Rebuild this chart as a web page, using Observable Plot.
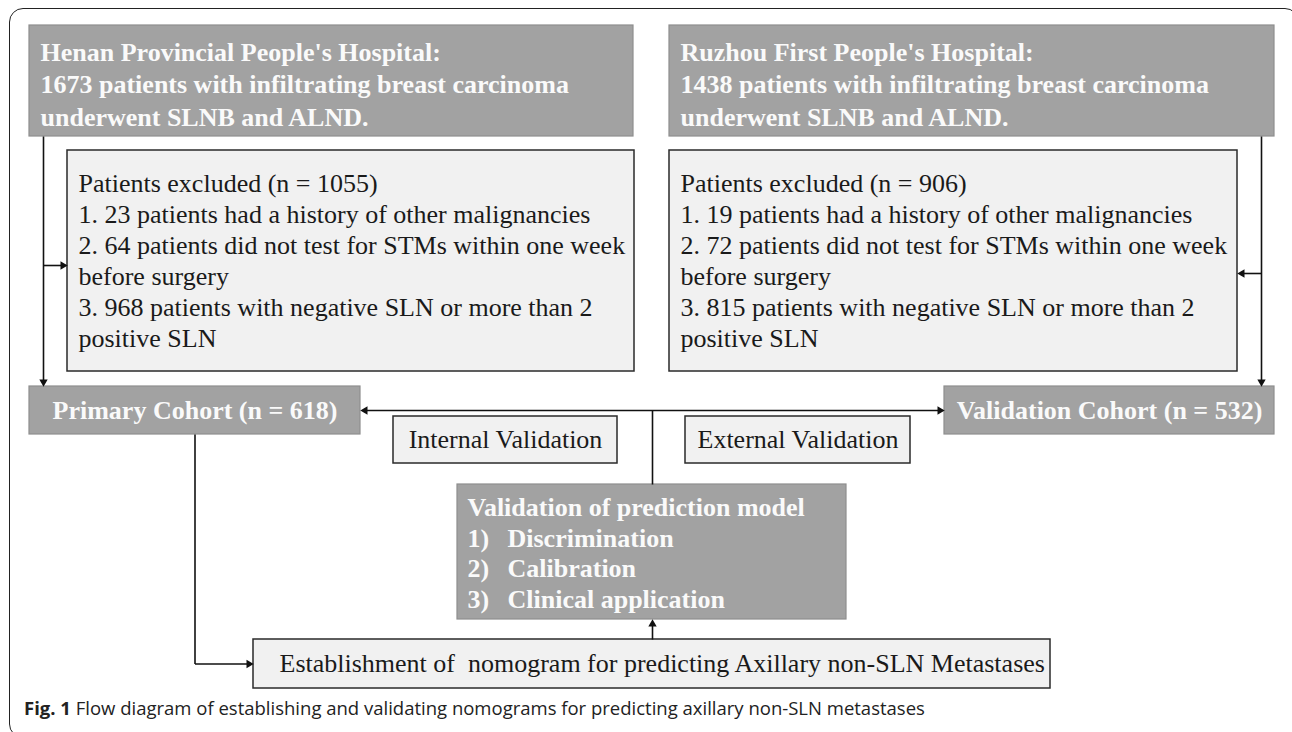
<!DOCTYPE html>
<html>
<head>
<meta charset="utf-8">
<script src="https://cdn.jsdelivr.net/npm/d3@7"></script>
<script src="https://cdn.jsdelivr.net/npm/@observablehq/plot@0.6"></script>
<style>
html, body { margin: 0; padding: 0; background: #fff; overflow: hidden; }
#fig { position: relative; width: 1292px; height: 732px; overflow: hidden; }
#chart { position: absolute; left: 0; top: 0; }
#frame { position: absolute; left: 9px; top: 8px; width: 1290px; height: 730px; border: 1.5px solid #222; border-radius: 14px; box-sizing: border-box; pointer-events: none; }
#caption { position: absolute; left: 24px; top: 695px; font-family: "Open Sans", sans-serif; font-size: 18.5px; line-height: 26px; color: #222; white-space: nowrap; }
#caption b { font-weight: 700; }
svg text { white-space: pre; }
</style>
</head>
<body>
<div id="fig">
  <div id="chart"></div>
  <div id="caption"></div>
  <div id="frame"></div>
</div>
<script>
// ---- chart content ----
const leftHospital = ["Henan Provincial People's Hospital:", "1673 patients with infiltrating breast carcinoma", "underwent SLNB and ALND."];
const rightHospital = ["Ruzhou First People's Hospital:", "1438 patients with infiltrating breast carcinoma", "underwent SLNB and ALND."];
const leftExcluded = ["Patients excluded (n = 1055)", "1. 23 patients had a history of other malignancies", "2. 64 patients did not test for STMs within one week", "before surgery", "3. 968 patients with negative SLN or more than 2", "positive SLN"];
const rightExcluded = ["Patients excluded (n = 906)", "1. 19 patients had a history of other malignancies", "2. 72 patients did not test for STMs within one week", "before surgery", "3. 815 patients with negative SLN or more than 2", "positive SLN"];
const cohortLabels = ["Primary Cohort (n = 618)", "Validation Cohort (n = 532)"];
const validationTypes = ["Internal Validation", "External Validation"];
const modelTitle = "Validation of prediction model";
const modelStepNumbers = ["1)", "2)", "3)"];
const modelStepLabels = ["Discrimination", "Calibration", "Clinical application"];
const establishmentLabel = "Establishment of  nomogram for predicting Axillary non-SLN Metastases";
const captionLabel = "Fig. 1";
const captionText = "Flow diagram of establishing and validating nomograms for predicting axillary non-SLN metastases";

// ---- layout (diagram coordinates) ----
const W = 1292, H = 696;
const boxes = [
  {id: "hL", x1: 29, x2: 633, y1: 25, y2: 136, kind: "dark"},
  {id: "hR", x1: 669, x2: 1274, y1: 25, y2: 136, kind: "dark"},
  {id: "eL", x1: 67, x2: 634, y1: 150, y2: 371, kind: "light"},
  {id: "eR", x1: 669, x2: 1237, y1: 150, y2: 371, kind: "light"},
  {id: "pc", x1: 29, x2: 360, y1: 386, y2: 434, kind: "dark"},
  {id: "vc", x1: 944, x2: 1274, y1: 386, y2: 434, kind: "dark"},
  {id: "iv", x1: 393, x2: 617, y1: 416, y2: 463, kind: "light"},
  {id: "ev", x1: 685, x2: 910, y1: 416, y2: 463, kind: "light"},
  {id: "vm", x1: 457, x2: 846, y1: 484, y2: 619, kind: "dark"},
  {id: "es", x1: 253, x2: 1050, y1: 639, y2: 688, kind: "light"}
];
const B = Object.fromEntries(boxes.map(b => [b.id, b]));
const cx = b => (b.x1 + b.x2) / 2, cy = b => (b.y1 + b.y2) / 2;

// texts
const texts = [];
const lineStep = 32.5, exStep = 31;
leftHospital.forEach((t, i) => texts.push({x: 40, y: 52 + i * lineStep, text: t, anchor: "start", dark: true}));
rightHospital.forEach((t, i) => texts.push({x: 680, y: 52 + i * lineStep, text: t, anchor: "start", dark: true}));
leftExcluded.forEach((t, i) => texts.push({x: 78, y: 183 + i * exStep, text: t, anchor: "start", dark: false}));
rightExcluded.forEach((t, i) => texts.push({x: 680, y: 183 + i * exStep, text: t, anchor: "start", dark: false}));
texts.push({x: cx(B.pc), y: cy(B.pc), text: cohortLabels[0], anchor: "middle", dark: true});
texts.push({x: cx(B.vc), y: cy(B.vc), text: cohortLabels[1], anchor: "middle", dark: true});
texts.push({x: cx(B.iv), y: cy(B.iv), text: validationTypes[0], anchor: "middle", dark: false});
texts.push({x: cx(B.ev), y: cy(B.ev), text: validationTypes[1], anchor: "middle", dark: false});
texts.push({x: 467, y: 507, text: modelTitle, anchor: "start", dark: true});
modelStepNumbers.forEach((t, i) => texts.push({x: 467, y: 538 + i * 30.5, text: t, anchor: "start", dark: true}));
modelStepLabels.forEach((t, i) => texts.push({x: 507, y: 538 + i * 30.5, text: t, anchor: "start", dark: true}));
texts.push({x: 279, y: cy(B.es), text: establishmentLabel, anchor: "start", dark: false});

// connectors
const xL = 43, xR = 1261, xJ = 652, yH = 410;
const segments = [
  {x1: xL, y1: B.hL.y2, x2: xL, y2: B.pc.y1 - 4},
  {x1: xL, y1: 265, x2: B.eL.x1 - 4, y2: 265},
  {x1: xR, y1: B.hR.y2, x2: xR, y2: B.vc.y1 - 4},
  {x1: xR, y1: 273, x2: B.eR.x2 + 4, y2: 273},
  {x1: B.pc.x2 + 4, y1: yH, x2: B.vc.x1 - 4, y2: yH},
  {x1: xJ, y1: yH, x2: xJ, y2: B.vm.y1},
  {x1: cx(B.pc), y1: B.pc.y2, x2: cx(B.pc), y2: cy(B.es)},
  {x1: cx(B.pc), y1: cy(B.es), x2: B.es.x1 - 4, y2: cy(B.es)},
  {x1: xJ, y1: B.es.y1, x2: xJ, y2: B.vm.y2 + 4}
];
const tip = 4.6;
const heads = [
  {x: xL, y: B.pc.y1 - tip, a: 180},
  {x: B.eL.x1 - tip, y: 265, a: 90},
  {x: xR, y: B.vc.y1 - tip, a: 180},
  {x: B.eR.x2 + tip, y: 273, a: 270},
  {x: B.pc.x2 + tip, y: yH, a: 270},
  {x: B.vc.x1 - tip, y: yH, a: 90},
  {x: B.es.x1 - tip, y: cy(B.es), a: 90},
  {x: xJ, y: B.vm.y2 + tip, a: 0}
];

const serif = "Liberation Serif, Times New Roman, Times, serif";
const textMark = (dark, anchor) => Plot.text(texts.filter(d => d.dark === dark && d.anchor === anchor), {
  x: "x", y: "y", text: "text", textAnchor: anchor,
  fontFamily: serif, fontSize: 26,
  fontWeight: dark ? "bold" : "normal",
  fill: dark ? "#fafafa" : "#1a1a1a"
});

const chart = Plot.plot({
  width: W, height: H, margin: 0,
  x: {domain: [0, W], range: [0, W], axis: null},
  y: {domain: [0, H], range: [0, H], axis: null},
  style: {background: "transparent", overflow: "visible"},
  marks: [
    Plot.rect(boxes, {
      x1: "x1", x2: "x2", y1: "y1", y2: "y2",
      fill: d => d.kind === "dark" ? "#a2a2a2" : "#f1f1f1",
      stroke: d => d.kind === "dark" ? "#8e8e8e" : "#2a2a2a",
      strokeWidth: d => d.kind === "dark" ? 1.2 : 1.5
    }),
    Plot.link(segments, {x1: "x1", y1: "y1", x2: "x2", y2: "y2", stroke: "#111", strokeWidth: 1.6}),
    Plot.dot(heads, {x: "x", y: "y", symbol: "triangle", r: 3.1, rotate: "a", fill: "#111", stroke: "none"}),
    textMark(true, "start"),
    textMark(true, "middle"),
    textMark(false, "start"),
    textMark(false, "middle")
  ]
});
document.getElementById("chart").appendChild(chart);

const cap = document.getElementById("caption");
const b = document.createElement("b");
b.textContent = captionLabel;
cap.appendChild(b);
cap.appendChild(document.createTextNode(" " + captionText));
</script>
</body>
</html>
